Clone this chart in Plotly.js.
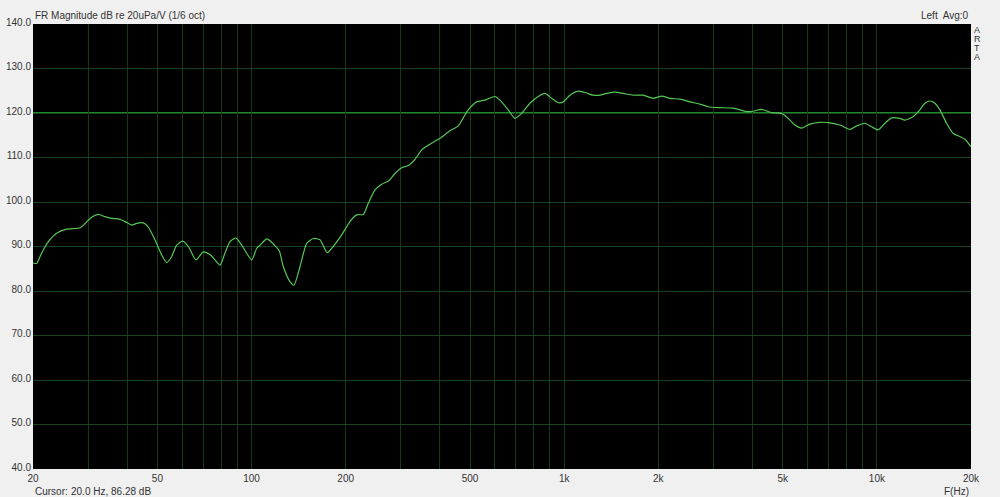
<!DOCTYPE html>
<html>
<head>
<meta charset="utf-8">
<script src="https://cdn.plot.ly/plotly-3.0.1.min.js"></script>
<style>html,body{margin:0;padding:0;background:#f0f0f0;}#chart{width:1000px;height:497px;}</style>
</head>
<body>
<div id="chart"></div>
<script>
// Frequency (Hz)
const freqHz = [20.0, 20.55, 21.3, 22.4, 23.8, 25.6, 28.3, 29.3, 30.8, 32.4, 34.0, 35.7, 37.5, 39.4, 41.4, 42.9, 45.1, 46.7, 49.1, 51.6, 53.5, 55.5, 57.6, 60.2, 62.8, 66.4, 70.1, 73.6, 76.4, 79.3, 82.2, 85.3, 89.2, 93.0, 100.1, 103.9, 106.4, 112.0, 118.8, 122.7, 126.3, 132.7, 136.7, 142.9, 150.1, 157.6, 165.5, 174.7, 182.5, 194.2, 206.4, 216.9, 227.8, 236.3, 248.2, 260.8, 273.8, 287.6, 302.2, 317.3, 333.3, 350.1, 372.2, 400.6, 431.2, 458.4, 477.8, 493.3, 524.6, 557.8, 600.6, 623, 662.2, 695.6, 730.8, 777, 826, 867.8, 911.8, 957, 993, 1043, 1109, 1165, 1238, 1301, 1367, 1453, 1544, 1663, 1789, 1926, 2050, 2178, 2345, 2526, 2716, 2888, 3110, 3472, 3833, 4023, 4278, 4606, 4960, 5206, 5470, 5746, 6108, 6574, 7078, 7617, 8200, 8614, 9158, 9622, 10100, 10610, 11146, 11846, 12290, 13066, 13728, 14244, 14780, 15334, 15910, 16712, 17546, 18432, 19124, 20000];
// Magnitude (dB re 20uPa/V)
const magDb = [86.3, 86.2, 88.5, 91.1, 93.0, 93.9, 94.2, 95.1, 96.6, 97.2, 96.7, 96.3, 96.2, 95.6, 94.8, 95.2, 95.3, 94.4, 91.5, 88.1, 86.4, 87.7, 90.3, 91.2, 90.0, 87.0, 88.8, 88.2, 87.0, 85.8, 88.5, 91.1, 91.9, 90.3, 87.0, 89.6, 90.3, 91.7, 90.2, 89.0, 85.5, 82.1, 81.3, 85.5, 90.7, 91.8, 91.5, 88.6, 90.0, 92.6, 95.6, 97.1, 97.2, 99.7, 102.7, 104.0, 104.7, 106.4, 107.7, 108.2, 109.6, 111.7, 113.0, 114.3, 116.0, 117.1, 119.2, 120.7, 122.5, 122.9, 123.7, 122.9, 120.7, 118.8, 119.9, 122.2, 123.7, 124.4, 123.3, 122.3, 122.5, 124.0, 124.9, 124.6, 124.0, 124.0, 124.4, 124.7, 124.4, 124.0, 124.0, 123.3, 123.8, 123.3, 123.1, 122.5, 122.0, 121.4, 121.2, 121.1, 120.3, 120.4, 120.8, 120.1, 119.9, 118.8, 117.3, 116.6, 117.5, 117.9, 117.8, 117.3, 116.3, 117.1, 117.7, 116.9, 116.2, 117.7, 118.9, 118.8, 118.4, 119.2, 120.7, 122.2, 122.7, 122.2, 120.7, 117.7, 115.4, 114.7, 114.1, 112.4];

const gridFreqs = [20,30,40,50,60,70,80,90,100,200,300,400,500,600,700,800,900,1000,2000,3000,4000,5000,6000,7000,8000,9000,10000,20000];
const freqTickLabels = {20:'20',50:'50',100:'100',200:'200',500:'500',1000:'1k',2000:'2k',5000:'5k',10000:'10k',20000:'20k'};
const yTicks = [40,50,60,70,80,90,100,110,120,130,140];
const refLevelDb = 120;

const titleText = 'FR Magnitude dB re 20uPa/V (1/6 oct)';
const channelText = 'Left  Avg:0';
const cursorLabel = 'Cursor:';
const cursorValue = '20.0 Hz, 86.28 dB';
const xUnitLabel = 'F(Hz)';
const brandLetters = ['A','R','T','A'];

const FONT = 'Liberation Sans, Arial, sans-serif';
const txtColor = '#333333';

const annotations = [
  {text: titleText, xref:'paper', yref:'paper', x:0, y:1, xanchor:'left', yanchor:'bottom', yshift:1, showarrow:false, font:{family:FONT,size:10,color:txtColor}},
  {text: channelText, xref:'paper', yref:'paper', x:1, y:1, xanchor:'right', yanchor:'bottom', yshift:1, showarrow:false, font:{family:FONT,size:10,color:txtColor}},
  {text: cursorLabel, xref:'paper', yref:'paper', x:0, y:0, xanchor:'left', yanchor:'middle', yshift:-22, showarrow:false, font:{family:FONT,size:10,color:txtColor}},
  {text: cursorValue, xref:'paper', yref:'paper', x:0, y:0, xanchor:'left', yanchor:'middle', xshift:36, yshift:-22, showarrow:false, font:{family:FONT,size:10,color:txtColor}},
  {text: xUnitLabel, xref:'paper', yref:'paper', x:1, y:0, xanchor:'right', yanchor:'middle', yshift:-22, showarrow:false, font:{family:FONT,size:10,color:txtColor}}
];
brandLetters.forEach((ch, i) => {
  annotations.push({text: ch, xref:'paper', yref:'paper', x:1, y:1, xanchor:'left', yanchor:'middle', height:8, borderpad:0, xshift:2, yshift:-5.5 - i*9.2, showarrow:false, font:{family:FONT,size:9,color:txtColor}});
});

const trace = {
  x: freqHz, y: magDb, type:'scatter', mode:'lines',
  line:{color:'#55c855', width:1.2, shape:'spline', smoothing:0.6},
  hoverinfo:'skip'
};

const layout = {
  width:1000, height:497,
  margin:{l:33, r:29, t:24, b:28},
  paper_bgcolor:'#f0f0f0', plot_bgcolor:'#000000',
  showlegend:false,
  xaxis:{
    type:'log', range:[Math.log10(20), Math.log10(20000)],
    tickmode:'array', tickvals:gridFreqs,
    ticktext:gridFreqs.map(f => freqTickLabels[f] || ''),
    showgrid:true, gridcolor:'#123a17', gridwidth:1,
    zeroline:false, showline:false, ticks:'', ticklabelstandoff:2,
    tickfont:{family:FONT, size:10, color:txtColor}
  },
  yaxis:{
    range:[40,140], tickmode:'array', tickvals:yTicks,
    ticktext:yTicks.map(v => v.toFixed(1)),
    showgrid:true, gridcolor:'#1a4420', gridwidth:1,
    zeroline:false, showline:false, ticks:'', ticklabelstandoff:1, ticklabelshift:-2,
    tickfont:{family:FONT, size:10, color:txtColor}
  },
  shapes:[{type:'line', xref:'paper', x0:0, x1:1, yref:'y', y0:refLevelDb, y1:refLevelDb, line:{color:'#1f8a2a', width:2}, layer:'below'}],
  annotations: annotations
};

Plotly.newPlot('chart', [trace], layout, {staticPlot:true, displayModeBar:false});
</script>
</body>
</html>
